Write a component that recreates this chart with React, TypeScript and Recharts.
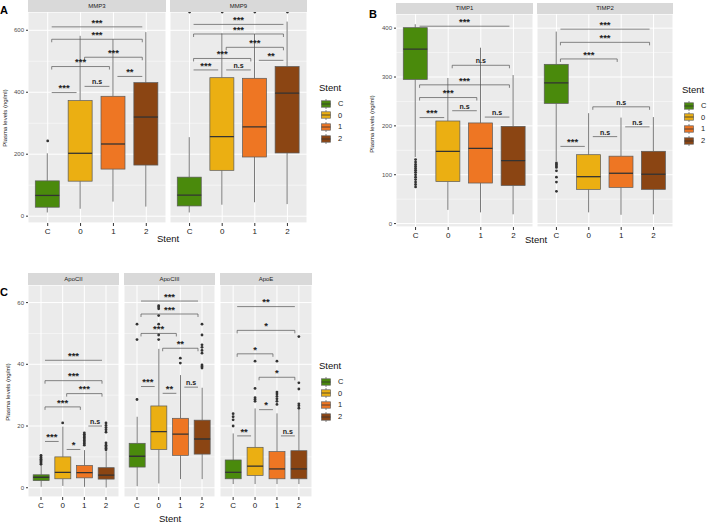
import { ComposedChart, Bar, Scatter, XAxis, YAxis, CartesianGrid, ReferenceLine } from 'recharts';

const groups = ['C', '0', '1', '2'];
const groupColors = ['#4a8a0c', '#ebaf12', '#ee7623', '#8b4513'];

// box stats per group (C, 0, 1, 2): [whisker low, q1, median, q3, whisker high]
const mmp3Stats = [[12, 29, 67, 114, 203], [24, 113, 203, 373, 582], [47, 152, 233, 387, 571], [31, 165, 320, 431, 594]];
const mmp9Stats = [[12, 33, 68, 126, 255], [37, 148, 257, 447, 590], [45, 191, 288, 445, 588], [39, 204, 397, 483, 628]];
const timp1Stats = [[136, 295, 357, 401, 408], [28, 86, 148, 210, 298], [23, 83, 154, 206, 360], [19, 78, 129, 199, 304]];
const timp2Stats = [[128, 246, 288, 326, 393], [23, 70, 96, 141, 226], [18, 74, 103, 138, 217], [19, 70, 101, 148, 218]];
const apoc2Stats = [[0.3, 2.3, 3.4, 4.2, 7.2], [0.6, 2.9, 5.0, 10.0, 19.8], [0.3, 3.2, 4.9, 7.2, 12.2], [0.1, 2.8, 4.1, 6.5, 11.8]];
const apoc3Stats = [[0.5, 6.7, 10.2, 14.4, 23], [1.4, 12.4, 18.2, 26.5, 45], [2.8, 10.5, 17.4, 22.5, 36.5], [2.8, 10.9, 15.8, 21.9, 32.4]];
const apoeStats = [[1.2, 2.9, 5, 9, 17.6], [1.2, 4, 7, 13.1, 25.7], [1.2, 2.9, 6.1, 11.7, 24.1], [1.2, 2.9, 6.1, 12, 26]];

// outliers per group
const mmp3Out = [[243], [], [], []];
const mmp9Out = [[], [], [], []];
const timp1Out = [[131, 126, 121, 117, 113, 109, 105, 100, 95, 90, 85, 80, 75], [], [], []];
const timp2Out = [[124, 121, 118, 115, 108, 95, 85, 66], [], [], []];
const apoc2Out = [
  [7.6, 8.0, 8.4, 8.8, 9.2, 9.6, 10.0, 10.5],
  [21],
  [13.8, 14.3, 14.8, 15.3, 15.8, 16.3, 16.8, 17.3, 17.8],
  [12.3, 12.8, 13.3, 13.8, 14.5, 18, 18.8, 19.5, 20.2, 21],
];
const apoc3Out = [
  [28.6, 48, 53],
  [48, 49.5, 53, 55.8, 58, 58.6, 59],
  [40.4, 42],
  [38.8, 39.3, 39.8, 43.6, 44.5, 45.5, 46.3, 49.5, 53],
];
const apoeOut = [
  [20, 22, 23, 24],
  [28, 28.6, 29.2, 32.2, 41],
  [27, 28, 28.8, 29.6, 30.4, 31, 41],
  [25.8, 26.6, 27.2, 32, 34, 49],
];

// significance brackets: [from, to, y, label, tips]
type Sig = [string, string, number, string, boolean];
const mmp3Sig: Sig[] = [['C', '0', 399, '***', false], ['0', '1', 419, 'n.s', false], ['1', '2', 451, '**', false], ['C', '1', 483, '***', true], ['0', '2', 513, '***', true], ['C', '2', 571, '***', true], ['C', '2', 611, '***', false]];
const mmp9Sig: Sig[] = [['C', '0', 472, '***', false], ['0', '1', 472, 'n.s', false], ['1', '2', 503, '**', false], ['C', '1', 509, '***', true], ['0', '2', 545, '***', true], ['C', '2', 588, '***', true], ['C', '2', 619, '***', false]];
const timp1Sig: Sig[] = [['C', '2', 404, '***', false], ['0', '2', 324, 'n.s', true], ['C', '2', 284, '***', true], ['C', '1', 258, '***', true], ['0', '1', 231, 'n.s', false], ['C', '0', 217, '***', false], ['1', '2', 218, 'n.s', false]];
const timp2Sig: Sig[] = [['C', '2', 398, '***', false], ['C', '2', 371, '***', true], ['C', '1', 337, '***', true], ['0', '2', 239, 'n.s', true], ['1', '2', 198, 'n.s', false], ['0', '1', 178, 'n.s', false], ['C', '0', 158, '***', false]];
const apoc2Sig: Sig[] = [['C', '2', 41.3, '***', false], ['C', '2', 34.7, '***', true], ['0', '2', 30.5, '***', true], ['C', '1', 26.2, '***', true], ['1', '2', 20, 'n.s', false], ['C', '0', 15, '***', false], ['0', '1', 12.4, '*', false]];
const apoc3Sig: Sig[] = [['C', '2', 60.5, '***', false], ['C', '2', 56.3, '***', true], ['C', '1', 50, '***', true], ['0', '2', 45.2, '**', true], ['C', '0', 32.8, '***', false], ['1', '2', 32.6, 'n.s', false], ['0', '1', 30.6, '**', false]];
const apoeSig: Sig[] = [['C', '2', 58.7, '**', false], ['C', '2', 51, '*', true], ['C', '1', 43.4, '*', true], ['0', '2', 35.8, '*', true], ['0', '1', 25.3, '*', false], ['C', '0', 16.8, '**', false], ['1', '2', 16.8, 'n.s', false]];

// y axis domains and ticks per row
const rowA = { stripTop: 0, stripH: 12, top: 12, height: 211, domain: [-22, 659], ticks: [0, 200, 400, 600], minor: [100, 300, 500] };
const rowB = { stripTop: 3, stripH: 11, top: 14, height: 213, domain: [-7, 429], ticks: [0, 100, 200, 300, 400], minor: [50, 150, 250, 350] };
const rowC = { stripTop: 273, stripH: 12, top: 285, height: 212, domain: [-3, 65.7], ticks: [0, 20, 40, 60], minor: [10, 30, 50] };

function BoxShape(props: any) {
  const { x, y, width, height, payload } = props;
  const { lo, q1, med, q3, hi, fill } = payload;
  const py = (v: number) => y + (height * (hi - v)) / (hi - lo);
  const cx = x + width / 2;
  return (
    <g>
      <line x1={cx} x2={cx} y1={py(hi)} y2={py(q3)} stroke="#444" strokeWidth={0.7} />
      <line x1={cx} x2={cx} y1={py(q1)} y2={py(lo)} stroke="#444" strokeWidth={0.7} />
      <rect x={x} y={py(q3)} width={width} height={py(q1) - py(q3)} fill={fill} stroke="#5a5a5a" strokeWidth={0.7} />
      <line x1={x} x2={x + width} y1={py(med)} y2={py(med)} stroke="#333" strokeWidth={1.3} />
    </g>
  );
}

const OutDot = (p: any) => <circle cx={p.cx} cy={p.cy} r={1.4} fill="#333" />;

const bracket = (label: string, tips: boolean) => (p: any) => {
  const a = p.x1 + 4;
  const b = p.x2 - 4;
  const y = p.y1;
  const t = tips ? 3 : 0;
  const stars = label !== 'n.s';
  return (
    <g>
      <path d={`M${a},${y + t}V${y}H${b}V${y + t}`} fill="none" stroke="#555" strokeWidth={0.7} />
      <text x={(a + b) / 2} y={stars ? y - 1.2 : y - 2} textAnchor="middle" fontSize={stars ? 9.5 : 7} fontWeight="bold" fill="#222">
        {label}
      </text>
    </g>
  );
};

function Facet({ title, stats, outliers, sig, left, width, row, axisW }: any) {
  const rows = groups.map((g, i) => ({ g, lo: stats[i][0], q1: stats[i][1], med: stats[i][2], q3: stats[i][3], hi: stats[i][4], fill: groupColors[i] }));
  const points = outliers.flatMap((vals: number[], i: number) => vals.map((v) => ({ g: groups[i], v })));
  const pad = width / 42;
  const barSize = Math.round((width / 4.2) * 0.73);
  return (
    <>
      <div style={{ position: 'absolute', left, top: row.stripTop, width, height: row.stripH, background: '#d9d9d9', fontSize: 6, color: '#1a1a1a', textAlign: 'center', lineHeight: `${row.stripH}px` }}>
        {title}
      </div>
      <div style={{ position: 'absolute', left: left - axisW, top: row.top }}>
        <ComposedChart width={width + axisW} height={row.height + 18} data={rows} margin={{ top: 0, right: 0, bottom: 0, left: 0 }} barSize={barSize}>
          <CartesianGrid fill="#ebebeb" stroke="#fff" strokeWidth={1} />
          <CartesianGrid yAxisId="minor" vertical={false} stroke="#fff" strokeWidth={0.5} />
          <XAxis dataKey="g" type="category" allowDuplicatedCategory={false} padding={{ left: pad, right: pad }} axisLine={false} tickLine={{ stroke: '#333' }} tickSize={3} tick={{ fontSize: 8, fill: '#222' }} height={18} interval={0} />
          <YAxis type="number" domain={row.domain} ticks={row.ticks} allowDataOverflow hide={axisW === 0} width={axisW} axisLine={false} tickSize={2} tick={{ fontSize: 6, fill: '#4d4d4d' }} tickLine={{ stroke: '#333' }} />
          <YAxis yAxisId="minor" type="number" domain={row.domain} ticks={row.minor} allowDataOverflow hide />
          <Bar dataKey={(d: any) => [d.lo, d.hi]} shape={BoxShape} isAnimationActive={false} />
          <Scatter data={points} dataKey="v" shape={OutDot} isAnimationActive={false} />
          {sig.map(([a, b, y, label, tips]: Sig, k: number) => (
            <ReferenceLine key={k} segment={[{ x: a, y }, { x: b, y }]} shape={bracket(label, tips)} ifOverflow="visible" />
          ))}
        </ComposedChart>
      </div>
    </>
  );
}

function StentLegend({ left, top }: { left: number; top: number }) {
  return (
    <div style={{ position: 'absolute', left, top }}>
      <div style={{ position: 'absolute', left: 0, top: 0, fontSize: 9.5, lineHeight: '12px', color: '#111' }}>Stent</div>
      {groups.map((g, i) => (
        <div key={g} style={{ position: 'absolute', left: 2, top: 15.5 + i * 11.7, display: 'flex', alignItems: 'center', height: 12 }}>
          <svg width={10} height={10}>
            <line x1={5} x2={5} y1={0} y2={10} stroke="#555" strokeWidth={0.7} />
            <rect x={0.5} y={1.8} width={9} height={6.4} fill={groupColors[i]} stroke="#666" strokeWidth={0.7} />
            <line x1={0.5} x2={9.5} y1={5} y2={5} stroke="#333" strokeWidth={0.8} />
          </svg>
          <span style={{ marginLeft: 7, fontSize: 7.5, color: '#222' }}>{g}</span>
        </div>
      ))}
    </div>
  );
}

function YTitle({ x, y }: { x: number; y: number }) {
  return (
    <div style={{ position: 'absolute', left: x, top: y, transform: 'translate(-50%, -50%) rotate(-90deg)', whiteSpace: 'nowrap', fontSize: 6, color: '#222' }}>
      Plasma levels (ng/ml)
    </div>
  );
}

function XTitle({ x, y }: { x: number; y: number }) {
  return (
    <div style={{ position: 'absolute', left: x, top: y, transform: 'translate(-50%, -50%)', fontSize: 9.5, color: '#111' }}>Stent</div>
  );
}

function Letter({ x, y, text }: { x: number; y: number; text: string }) {
  return <div style={{ position: 'absolute', left: x, top: y, fontSize: 11, fontWeight: 'bold', lineHeight: '12px' }}>{text}</div>;
}

export default function App() {
  return (
    <div style={{ position: 'absolute', left: 0, top: 0, width: 709, height: 524, background: '#fff', overflow: 'hidden', fontFamily: '"Liberation Sans", Arial, sans-serif' }}>
      <Letter x={0} y={4} text="A" />
      <Letter x={369} y={8} text="B" />
      <Letter x={0} y={286} text="C" />

      <Facet title="MMP3" stats={mmp3Stats} outliers={mmp3Out} sig={mmp3Sig} left={28} width={138} row={rowA} axisW={28} />
      <Facet title="MMP9" stats={mmp9Stats} outliers={mmp9Out} sig={mmp9Sig} left={170} width={137} row={rowA} axisW={0} />
      <YTitle x={5} y={118} />
      <XTitle x={168} y={238} />
      <StentLegend left={319} top={82} />

      <Facet title="TIMP1" stats={timp1Stats} outliers={timp1Out} sig={timp1Sig} left={396} width={137} row={rowB} axisW={28} />
      <Facet title="TIMP2" stats={timp2Stats} outliers={timp2Out} sig={timp2Sig} left={537} width={136} row={rowB} axisW={0} />
      <YTitle x={372} y={124} />
      <XTitle x={536} y={239} />
      <StentLegend left={682} top={84} />

      <Facet title="ApoCII" stats={apoc2Stats} outliers={apoc2Out} sig={apoc2Sig} left={28} width={91} row={rowC} axisW={28} />
      <Facet title="ApoCIII" stats={apoc3Stats} outliers={apoc3Out} sig={apoc3Sig} left={124} width={91} row={rowC} axisW={0} />
      <Facet title="ApoE" stats={apoeStats} outliers={apoeOut} sig={apoeSig} left={220} width={92} row={rowC} axisW={0} />
      <YTitle x={8} y={392} />
      <XTitle x={170} y={518} />
      <StentLegend left={319} top={360} />
    </div>
  );
}
